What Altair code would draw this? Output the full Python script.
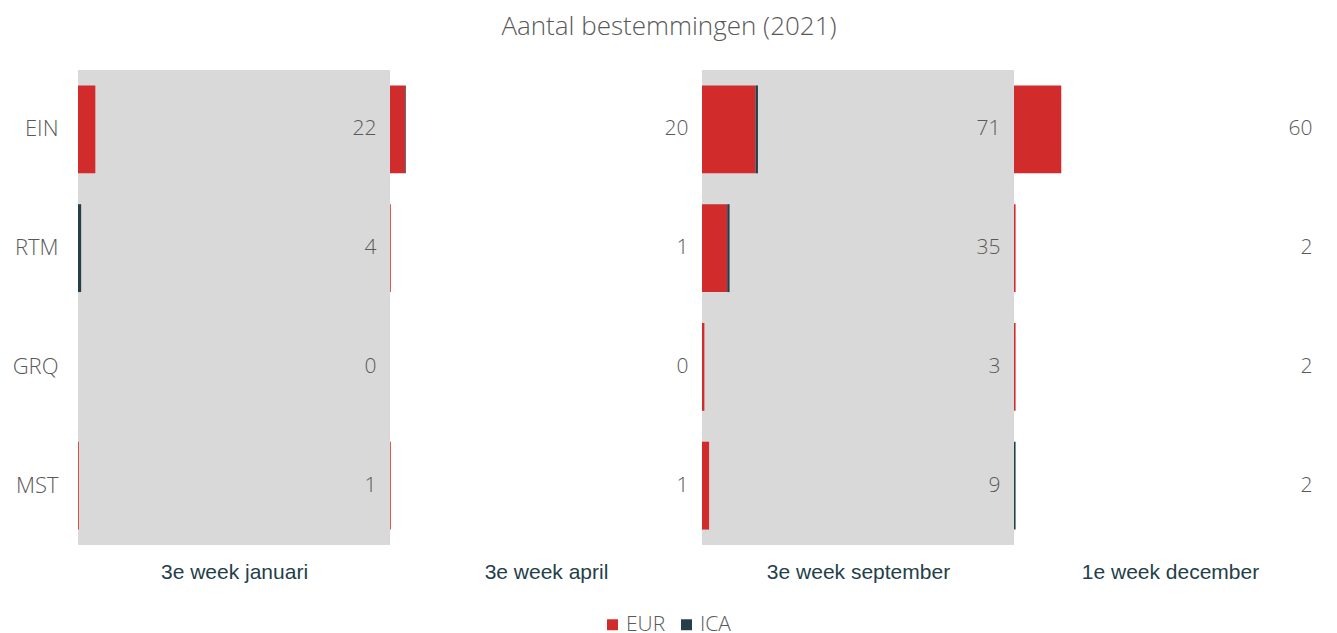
import altair as alt
import pandas as pd

periods = ["3e week januari", "3e week april", "3e week september", "1e week december"]
airports = ["EIN", "RTM", "GRQ", "MST"]
series = ["EUR", "ICA"]
eur_values = {
    "3e week januari": [22, 0, 0, 1],
    "3e week april": [19, 1, 0, 1],
    "3e week september": [68, 32, 3, 9],
    "1e week december": [60, 2, 2, 0],
}
ica_values = {
    "3e week januari": [0, 4, 0, 0],
    "3e week april": [1, 0, 0, 0],
    "3e week september": [3, 3, 0, 0],
    "1e week december": [0, 0, 0, 2],
}
totals = {
    "3e week januari": [22, 4, 0, 1],
    "3e week april": [20, 1, 0, 1],
    "3e week september": [71, 35, 3, 9],
    "1e week december": [60, 2, 2, 2],
}
shaded = ["3e week januari", "3e week september"]

colors = ["#d22b2b", "#243f4a"]
grey_text = "#595959"
FONT = "Open Sans"
PW, PH = 312, 475

rows = []
for p in periods:
    for i, a in enumerate(airports):
        rows.append({"period": p, "airport": a, "series": "EUR", "order": 0, "value": eur_values[p][i]})
        rows.append({"period": p, "airport": a, "series": "ICA", "order": 1, "value": ica_values[p][i]})
df = pd.DataFrame(rows)
tot = pd.DataFrame([{"period": p, "airport": a, "total": totals[p][i]}
                    for p in periods for i, a in enumerate(airports)])

yscale = alt.Scale(domain=airports, paddingInner=0.26, paddingOuter=0.13)
xscale = alt.Scale(domain=[0, 396], nice=False, zero=True)

panels = []
for k, p in enumerate(periods):
    yaxis = alt.Axis(title=None, ticks=False, domain=False, labelFontSize=22, labelColor=grey_text,
                     labelFont=FONT, labelFontWeight=300, labelPadding=20, minExtent=66, maxExtent=66) if k == 0 else None
    xaxis = alt.Axis(title=p, labels=False, ticks=False, domain=False, grid=False,
                     titleFont="Liberation Sans", titleFontSize=21, titleFontWeight="normal",
                     titleColor="#243f4a", titlePadding=16)
    bars = alt.Chart(df[df.period == p]).mark_bar().encode(
        y=alt.Y("airport:N", scale=yscale, axis=yaxis, sort=airports),
        x=alt.X("sum(value):Q", scale=xscale, axis=xaxis, stack="zero"),
        color=alt.Color("series:N", scale=alt.Scale(domain=series, range=colors),
                        legend=alt.Legend(title=None, orient="none", direction="horizontal",
                                          legendX=524, legendY=544,
                                          symbolType="square", symbolSize=120, symbolStrokeWidth=0,
                                          labelFontSize=21, labelColor=grey_text, labelFont=FONT,
                                          labelFontWeight=300, columnPadding=10, labelOffset=3)),
        order=alt.Order("order:Q"),
    )
    labels = alt.Chart(tot[tot.period == p]).mark_text(
        align="right", baseline="middle", fontSize=21, color=grey_text, font=FONT, fontWeight=300
    ).encode(
        y=alt.Y("airport:N", scale=yscale, sort=airports),
        x=alt.datum(379),
        text="total:Q",
    )
    layer = alt.layer(bars, labels).properties(
        width=PW, height=PH,
        view=alt.ViewBackground(fill="#d9d9d9" if p in shaded else "white", strokeWidth=0),
    )
    panels.append(layer)

chart = alt.hconcat(*panels, spacing=0).properties(
    title=alt.TitleParams("Aantal bestemmingen (2021)", fontSize=26, color=grey_text, font=FONT,
                          fontWeight=300, anchor="middle", offset=30),
    padding={"left": 4, "top": 6, "right": 0, "bottom": 0},
).configure_view(strokeWidth=0).configure_concat(spacing=0)

chart.save("out.html", embed_options={"renderer": "svg", "actions": False})
